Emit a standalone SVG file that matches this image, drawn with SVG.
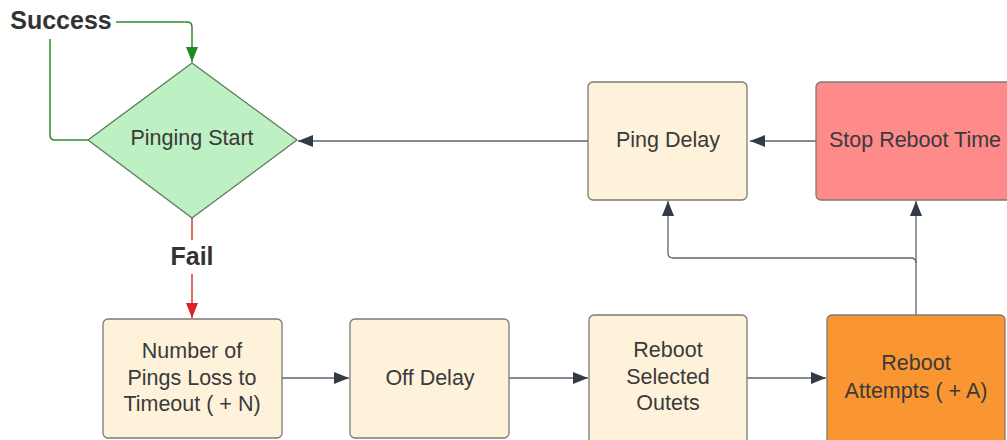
<svg xmlns="http://www.w3.org/2000/svg" width="1007" height="440" viewBox="0 0 1007 440">
<style>
text{font-family:"Liberation Sans",Arial,sans-serif;fill:#3a3a3a;text-anchor:middle}
.t{font-size:21.5px}
.b{font-size:25px;font-weight:bold;fill:#333}
.box{stroke:#7a7a7a;stroke-width:1.3}
.cream{fill:#FFF2DB}
.c{fill:none;stroke:#5d6470;stroke-width:1.3}
.g{fill:none;stroke:#2f8a2f;stroke-width:1.5}
.r{fill:none;stroke:#d63a3a;stroke-width:1.5}
</style>
<defs>
<marker id="a" viewBox="0 0 10 10" refX="10" refY="5" markerWidth="15" markerHeight="15" markerUnits="userSpaceOnUse" orient="auto"><path d="M0,1 L10,5 L0,9 Z" fill="#333a45"/></marker>
<marker id="ag" viewBox="0 0 10 10" refX="10" refY="5" markerWidth="15" markerHeight="15" markerUnits="userSpaceOnUse" orient="auto"><path d="M0,1 L10,5 L0,9 Z" fill="#1f8a1f"/></marker>
<marker id="ar" viewBox="0 0 10 10" refX="10" refY="5" markerWidth="15" markerHeight="15" markerUnits="userSpaceOnUse" orient="auto"><path d="M0,1 L10,5 L0,9 Z" fill="#e02020"/></marker>
</defs>
<rect width="1007" height="440" fill="#fff"/>
<g id="connectors">
<path class="g" d="M116,22 H187 Q192,22 192,27 V62" marker-end="url(#ag)"/>
<path class="g" d="M88,140 H55 Q50,140 50,135 V39"/>
<path class="r" d="M192,218 V240"/>
<path class="r" d="M192,274 V318" marker-end="url(#ar)"/>
<path class="c" d="M816,141 H750" marker-end="url(#a)"/>
<path class="c" d="M588,141 H298" marker-end="url(#a)"/>
<path class="c" d="M282,378 H349" marker-end="url(#a)"/>
<path class="c" d="M509,378 H588" marker-end="url(#a)"/>
<path class="c" d="M747,378 H826" marker-end="url(#a)"/>
<path class="c" d="M916,315 V201" marker-end="url(#a)"/>
<path class="c" d="M916,263 Q916,258 911,258 H673 Q668,258 668,253 V201" marker-end="url(#a)"/>
</g>
<g id="success"><text class="b" x="61" y="29">Success</text></g>
<g id="fail"><text class="b" x="192" y="265">Fail</text></g>
<g id="pinging-start">
<path d="M192,63 L297,140 L192,218 L88,140 Z" fill="#BDF0C2" stroke="#5a7a5a" stroke-width="1.3" stroke-linejoin="round"/>
<text class="t" x="192" y="145">Pinging Start</text>
</g>
<g id="ping-delay">
<rect class="box cream" x="588" y="82" width="159" height="118" rx="5"/>
<text class="t" x="668" y="147">Ping Delay</text>
</g>
<g id="stop-reboot">
<rect class="box" x="816" y="82" width="200" height="118" rx="5" fill="#FF8A8A"/>
<text class="t" x="915" y="147">Stop Reboot Time</text>
</g>
<g id="pings-loss">
<rect class="box cream" x="103" y="319" width="179" height="119" rx="5"/>
<text class="t" x="192" y="358">Number of</text>
<text class="t" x="192" y="385">Pings Loss to</text>
<text class="t" x="192" y="411">Timeout ( + N)</text>
</g>
<g id="off-delay">
<rect class="box cream" x="350" y="319" width="159" height="119" rx="5"/>
<text class="t" x="430" y="385">Off Delay</text>
</g>
<g id="reboot-selected">
<rect class="box cream" x="589" y="315" width="158" height="130" rx="5"/>
<text class="t" x="668" y="357">Reboot</text>
<text class="t" x="668" y="384">Selected</text>
<text class="t" x="668" y="410">Outets</text>
</g>
<g id="reboot-attempts">
<rect class="box" x="827" y="315" width="178" height="130" rx="5" fill="#F99632"/>
<text class="t" x="916" y="370">Reboot</text>
<text class="t" x="916" y="398">Attempts ( + A)</text>
</g>
</svg>
